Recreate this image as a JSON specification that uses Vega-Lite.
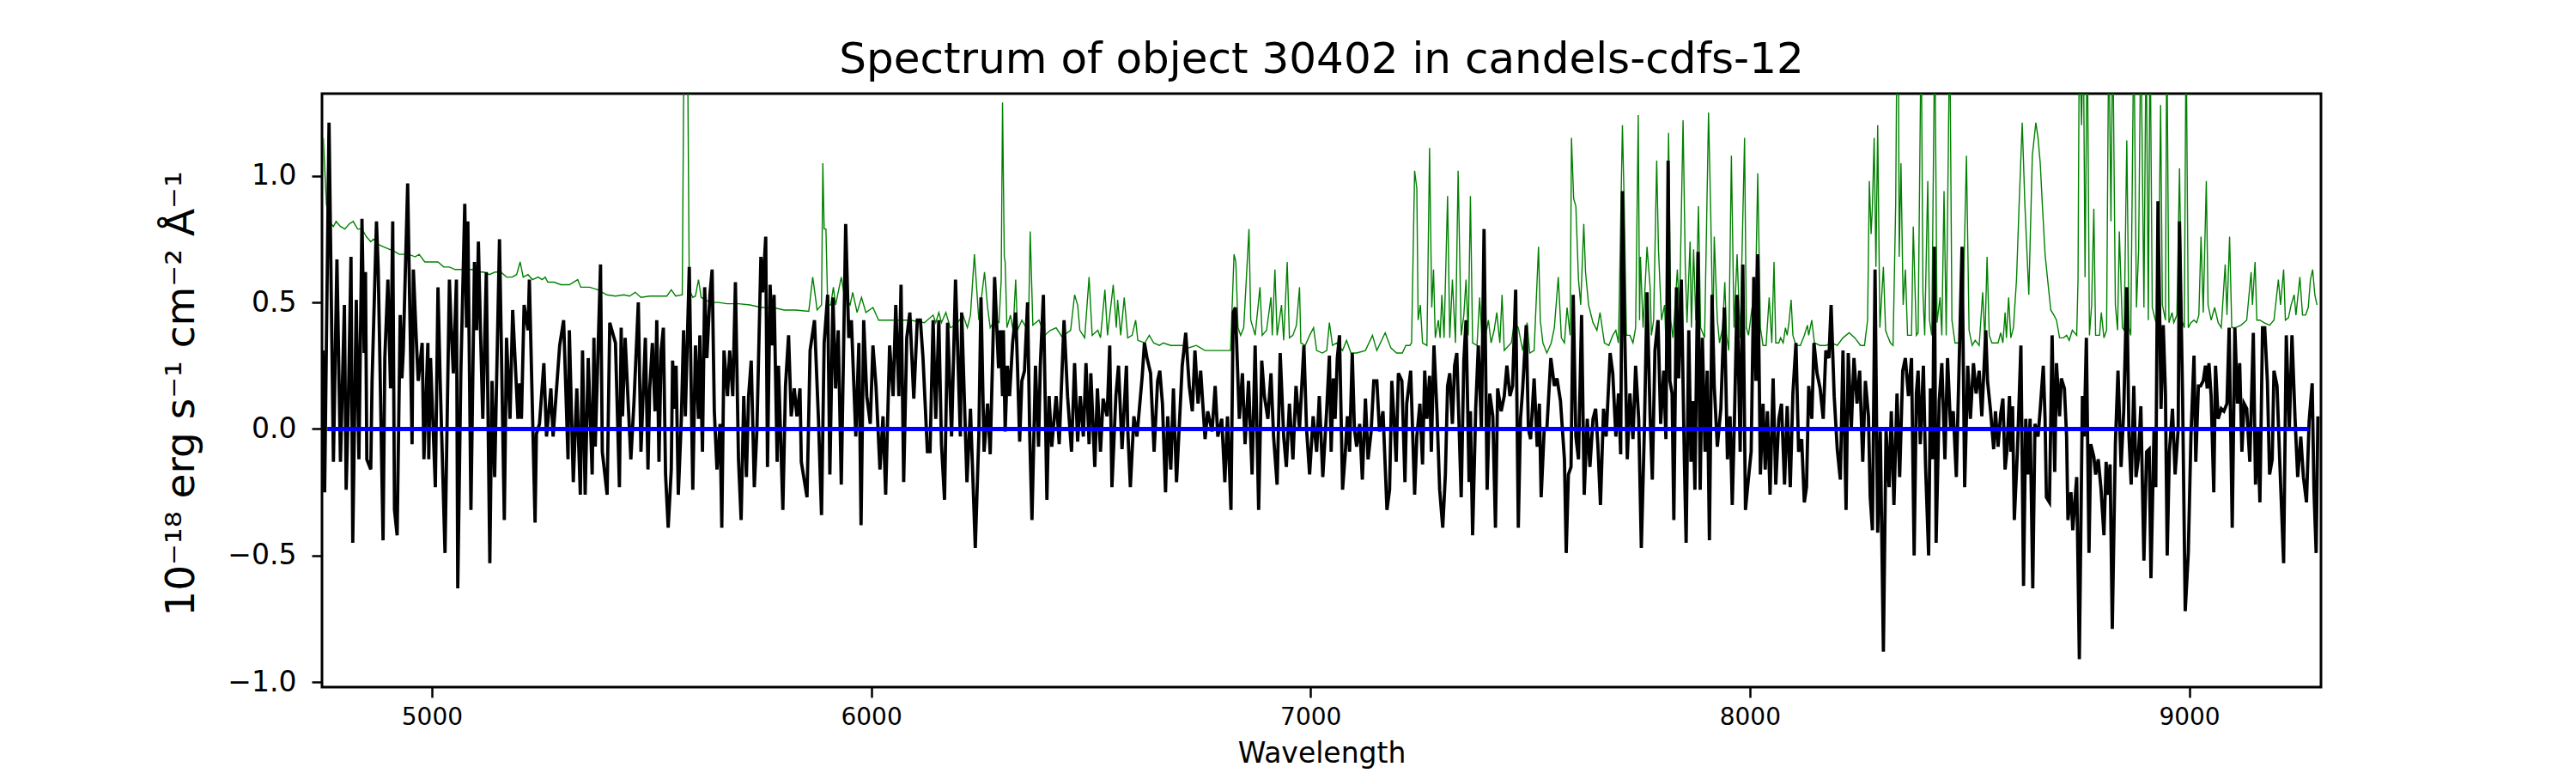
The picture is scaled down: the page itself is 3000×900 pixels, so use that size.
{
  "$schema": "https://vega.github.io/schema/vega-lite/v6.json",
  "width": 2328,
  "height": 691,
  "autosize": "none",
  "padding": {"left": 375, "top": 109, "right": 297, "bottom": 100},
  "background": "white",
  "title": {
    "text": "Spectrum of object 30402 in candels-cdfs-12",
    "font": "DejaVu Sans",
    "fontSize": 50,
    "fontWeight": "normal",
    "color": "black",
    "anchor": "middle",
    "frame": "group",
    "offset": 14
  },
  "datasets": {
    "flux": [
      {"w":4752,"v":0.31},{"w":4756,"v":-0.25},{"w":4766,"v":1.21},{"w":4776,"v":-0.13},{"w":4784,"v":0.67},{"w":4792,"v":-0.13},{"w":4801,"v":0.49},{"w":4805,"v":-0.24},{"w":4810,"v":0.10},{"w":4816,"v":0.68},
      {"w":4820,"v":-0.45},{"w":4828,"v":0.51},{"w":4834,"v":-0.12},{"w":4841,"v":0.83},{"w":4846,"v":0.30},{"w":4849,"v":0.62},{"w":4852,"v":-0.12},{"w":4861,"v":-0.16},{"w":4864,"v":0.19},{"w":4874,"v":0.82},
      {"w":4878,"v":0.63},{"w":4882,"v":0.25},{"w":4889,"v":-0.44},{"w":4893,"v":0.28},{"w":4900,"v":0.59},{"w":4906,"v":0.16},{"w":4911,"v":0.82},{"w":4915,"v":-0.32},{"w":4921,"v":-0.42},{"w":4928,"v":0.45},
      {"w":4932,"v":0.20},{"w":4935,"v":0.31},{"w":4945,"v":0.97},{"w":4955,"v":-0.06},{"w":4958,"v":0.63},{"w":4965,"v":0.34},{"w":4969,"v":0.19},{"w":4978,"v":0.34},{"w":4982,"v":-0.12},{"w":4991,"v":0.34},
      {"w":4993,"v":-0.12},{"w":4997,"v":0.28},{"w":5008,"v":-0.23},{"w":5014,"v":0.56},{"w":5019,"v":0.19},{"w":5030,"v":-0.49},{"w":5040,"v":0.59},{"w":5044,"v":0.40},{"w":5049,"v":0.22},{"w":5056,"v":0.59},
      {"w":5059,"v":-0.63},{"w":5066,"v":0.22},{"w":5075,"v":0.89},{"w":5079,"v":0.40},{"w":5082,"v":0.82},{"w":5089,"v":-0.32},{"w":5097,"v":0.66},{"w":5102,"v":0.39},{"w":5106,"v":0.74},{"w":5111,"v":0.37},
      {"w":5116,"v":0.04},{"w":5124,"v":0.62},{"w":5132,"v":-0.53},{"w":5137,"v":0.19},{"w":5143,"v":-0.19},{"w":5154,"v":0.75},{"w":5165,"v":-0.36},{"w":5170,"v":0.36},{"w":5178,"v":0.04},{"w":5184,"v":0.47},
      {"w":5196,"v":0.04},{"w":5200,"v":0.18},{"w":5204,"v":0.04},{"w":5210,"v":0.49},{"w":5219,"v":0.39},{"w":5222,"v":0.59},{"w":5235,"v":-0.37},{"w":5238,"v":-0.02},{"w":5245,"v":0.02},{"w":5255,"v":0.26},
      {"w":5261,"v":-0.03},{"w":5271,"v":0.16},{"w":5276,"v":-0.03},{"w":5291,"v":0.33},{"w":5300,"v":0.43},{"w":5310,"v":-0.12},{"w":5313,"v":0.39},{"w":5322,"v":-0.21},{"w":5330,"v":0.16},{"w":5338,"v":-0.26},
      {"w":5343,"v":0.31},{"w":5349,"v":-0.26},{"w":5356,"v":0.28},{"w":5365,"v":-0.18},{"w":5369,"v":0.36},{"w":5372,"v":-0.07},{"w":5384,"v":0.65},{"w":5388,"v":-0.09},{"w":5399,"v":-0.26},{"w":5405,"v":0.42},
      {"w":5418,"v":0.34},{"w":5427,"v":-0.23},{"w":5431,"v":0.40},{"w":5434,"v":0.05},{"w":5440,"v":0.36},{"w":5453,"v":-0.12},{"w":5460,"v":0.10},{"w":5470,"v":0.50},{"w":5476,"v":-0.09},{"w":5486,"v":0.36},
      {"w":5492,"v":-0.16},{"w":5496,"v":0.16},{"w":5502,"v":0.34},{"w":5508,"v":0.07},{"w":5512,"v":0.43},{"w":5517,"v":-0.13},{"w":5522,"v":0.31},{"w":5527,"v":0.40},{"w":5532,"v":-0.18},{"w":5538,"v":-0.39},
      {"w":5545,"v":-0.16},{"w":5548,"v":0.27},{"w":5553,"v":0.08},{"w":5556,"v":0.25},{"w":5561,"v":-0.26},{"w":5568,"v":0.04},{"w":5573,"v":0.39},{"w":5577,"v":0.05},{"w":5586,"v":0.64},{"w":5594,"v":-0.24},
      {"w":5600,"v":0.33},{"w":5607,"v":0.04},{"w":5610,"v":0.37},{"w":5616,"v":-0.09},{"w":5621,"v":0.56},{"w":5626,"v":0.28},{"w":5633,"v":0.53},{"w":5638,"v":0.63},{"w":5643,"v":0.07},{"w":5649,"v":-0.16},
      {"w":5656,"v":0.02},{"w":5660,"v":-0.39},{"w":5665,"v":0.31},{"w":5673,"v":0.13},{"w":5678,"v":0.31},{"w":5685,"v":0.13},{"w":5691,"v":0.58},{"w":5698,"v":-0.12},{"w":5704,"v":-0.36},{"w":5710,"v":0.13},
      {"w":5716,"v":-0.19},{"w":5721,"v":0.13},{"w":5727,"v":0.27},{"w":5734,"v":-0.23},{"w":5740,"v":0.00},{"w":5749,"v":0.68},{"w":5753,"v":0.54},{"w":5760,"v":0.76},{"w":5764,"v":-0.15},{"w":5770,"v":0.57},
      {"w":5775,"v":0.33},{"w":5779,"v":0.53},{"w":5786,"v":-0.13},{"w":5789,"v":0.25},{"w":5799,"v":-0.32},{"w":5805,"v":0.17},{"w":5812,"v":0.37},{"w":5818,"v":0.05},{"w":5825,"v":0.16},{"w":5831,"v":0.05},
      {"w":5838,"v":0.16},{"w":5841,"v":-0.13},{"w":5854,"v":-0.27},{"w":5861,"v":0.31},{"w":5871,"v":0.43},{"w":5880,"v":0.04},{"w":5887,"v":-0.34},{"w":5893,"v":0.34},{"w":5901,"v":0.53},{"w":5906,"v":-0.18},
      {"w":5913,"v":0.52},{"w":5919,"v":0.16},{"w":5925,"v":0.39},{"w":5932,"v":-0.22},{"w":5942,"v":0.81},{"w":5949,"v":0.36},{"w":5955,"v":0.43},{"w":5965,"v":-0.03},{"w":5972,"v":0.34},{"w":5977,"v":-0.38},
      {"w":5983,"v":0.43},{"w":5990,"v":0.13},{"w":5998,"v":0.02},{"w":6004,"v":0.33},{"w":6011,"v":0.17},{"w":6020,"v":-0.16},{"w":6027,"v":0.05},{"w":6033,"v":-0.26},{"w":6042,"v":0.33},{"w":6050,"v":0.13},
      {"w":6056,"v":0.49},{"w":6063,"v":0.13},{"w":6068,"v":0.57},{"w":6074,"v":-0.21},{"w":6081,"v":0.36},{"w":6088,"v":0.46},{"w":6097,"v":0.12},{"w":6105,"v":0.43},{"w":6112,"v":0.43},{"w":6118,"v":0.28},
      {"w":6128,"v":-0.09},{"w":6134,"v":-0.09},{"w":6141,"v":0.43},{"w":6147,"v":0.04},{"w":6154,"v":0.43},{"w":6160,"v":-0.06},{"w":6167,"v":-0.28},{"w":6174,"v":0.42},{"w":6183,"v":-0.03},{"w":6192,"v":0.59},
      {"w":6203,"v":-0.03},{"w":6206,"v":0.46},{"w":6218,"v":-0.21},{"w":6226,"v":0.08},{"w":6237,"v":-0.47},{"w":6245,"v":-0.03},{"w":6250,"v":0.52},{"w":6257,"v":-0.09},{"w":6265,"v":0.10},{"w":6271,"v":-0.10},
      {"w":6281,"v":0.60},{"w":6290,"v":0.24},{"w":6294,"v":0.39},{"w":6299,"v":0.13},{"w":6301,"v":0.39},{"w":6305,"v":-0.01},{"w":6310,"v":0.25},{"w":6315,"v":0.13},{"w":6322,"v":0.34},{"w":6329,"v":0.46},
      {"w":6333,"v":0.25},{"w":6338,"v":-0.05},{"w":6343,"v":0.19},{"w":6349,"v":0.23},{"w":6356,"v":0.50},{"w":6361,"v":-0.03},{"w":6366,"v":-0.36},{"w":6374,"v":0.25},{"w":6381,"v":-0.07},{"w":6385,"v":0.25},
      {"w":6392,"v":0.53},{"w":6400,"v":-0.28},{"w":6405,"v":0.13},{"w":6411,"v":-0.07},{"w":6421,"v":0.13},{"w":6428,"v":-0.06},{"w":6439,"v":0.43},{"w":6447,"v":0.13},{"w":6456,"v":-0.09},{"w":6463,"v":0.26},
      {"w":6470,"v":-0.05},{"w":6476,"v":0.13},{"w":6483,"v":-0.03},{"w":6489,"v":0.26},{"w":6496,"v":-0.06},{"w":6500,"v":0.22},{"w":6509,"v":-0.15},{"w":6515,"v":0.16},{"w":6522,"v":-0.09},{"w":6528,"v":0.12},
      {"w":6537,"v":0.05},{"w":6543,"v":0.33},{"w":6548,"v":-0.23},{"w":6557,"v":0.13},{"w":6563,"v":0.25},{"w":6571,"v":-0.08},{"w":6581,"v":0.25},{"w":6584,"v":0.00},{"w":6590,"v":-0.23},{"w":6598,"v":0.05},
      {"w":6605,"v":-0.03},{"w":6617,"v":0.21},{"w":6622,"v":0.34},{"w":6628,"v":0.28},{"w":6636,"v":0.22},{"w":6644,"v":-0.09},{"w":6652,"v":0.19},{"w":6657,"v":0.23},{"w":6663,"v":0.10},{"w":6670,"v":-0.25},
      {"w":6675,"v":0.05},{"w":6682,"v":-0.16},{"w":6688,"v":0.16},{"w":6695,"v":-0.21},{"w":6701,"v":0.00},{"w":6708,"v":0.25},{"w":6716,"v":0.38},{"w":6724,"v":0.17},{"w":6731,"v":0.07},{"w":6737,"v":0.31},
      {"w":6744,"v":0.10},{"w":6750,"v":0.23},{"w":6760,"v":-0.04},{"w":6766,"v":0.07},{"w":6776,"v":-0.01},{"w":6783,"v":0.17},{"w":6789,"v":-0.03},{"w":6798,"v":0.04},{"w":6805,"v":-0.21},{"w":6811,"v":0.05},
      {"w":6819,"v":-0.32},{"w":6824,"v":0.46},{"w":6829,"v":0.48},{"w":6838,"v":0.04},{"w":6845,"v":0.22},{"w":6851,"v":-0.06},{"w":6859,"v":0.19},{"w":6867,"v":-0.18},{"w":6874,"v":0.33},{"w":6882,"v":-0.32},
      {"w":6889,"v":0.27},{"w":6895,"v":0.13},{"w":6903,"v":0.04},{"w":6910,"v":0.22},{"w":6916,"v":-0.03},{"w":6924,"v":-0.22},{"w":6931,"v":0.30},{"w":6939,"v":-0.03},{"w":6945,"v":-0.15},{"w":6952,"v":0.10},
      {"w":6960,"v":-0.12},{"w":6967,"v":0.17},{"w":6975,"v":0.00},{"w":6985,"v":0.33},{"w":6991,"v":0.00},{"w":6998,"v":-0.18},{"w":7006,"v":0.05},{"w":7014,"v":-0.09},{"w":7020,"v":0.13},{"w":7028,"v":-0.19},
      {"w":7037,"v":0.08},{"w":7043,"v":0.29},{"w":7047,"v":-0.09},{"w":7052,"v":0.20},{"w":7056,"v":0.04},{"w":7061,"v":0.28},{"w":7066,"v":0.37},{"w":7073,"v":-0.24},{"w":7079,"v":-0.10},{"w":7084,"v":0.05},
      {"w":7089,"v":-0.09},{"w":7095,"v":0.30},{"w":7100,"v":0.00},{"w":7105,"v":-0.07},{"w":7112,"v":0.02},{"w":7118,"v":-0.20},{"w":7125,"v":0.12},{"w":7131,"v":-0.12},{"w":7138,"v":-0.01},{"w":7144,"v":0.19},
      {"w":7151,"v":0.19},{"w":7157,"v":-0.01},{"w":7165,"v":0.07},{"w":7174,"v":-0.32},{"w":7180,"v":-0.24},{"w":7185,"v":0.19},{"w":7190,"v":0.04},{"w":7195,"v":-0.13},{"w":7200,"v":0.22},{"w":7208,"v":0.19},
      {"w":7215,"v":-0.21},{"w":7219,"v":0.10},{"w":7228,"v":0.23},{"w":7237,"v":-0.26},{"w":7242,"v":-0.03},{"w":7249,"v":0.10},{"w":7255,"v":-0.14},{"w":7260,"v":0.23},{"w":7265,"v":0.04},{"w":7271,"v":0.21},
      {"w":7275,"v":-0.09},{"w":7281,"v":0.33},{"w":7288,"v":0.06},{"w":7294,"v":-0.24},{"w":7301,"v":-0.39},{"w":7307,"v":-0.18},{"w":7312,"v":0.17},{"w":7317,"v":0.22},{"w":7323,"v":0.02},{"w":7328,"v":0.25},
      {"w":7333,"v":0.30},{"w":7338,"v":0.02},{"w":7343,"v":-0.27},{"w":7349,"v":0.27},{"w":7354,"v":0.43},{"w":7361,"v":-0.21},{"w":7364,"v":0.07},{"w":7369,"v":-0.42},{"w":7376,"v":0.08},{"w":7382,"v":0.33},
      {"w":7389,"v":0.00},{"w":7395,"v":0.79},{"w":7402,"v":-0.24},{"w":7408,"v":0.14},{"w":7415,"v":0.05},{"w":7421,"v":-0.39},{"w":7426,"v":0.16},{"w":7434,"v":0.07},{"w":7441,"v":0.13},{"w":7447,"v":0.25},
      {"w":7454,"v":0.13},{"w":7460,"v":0.17},{"w":7467,"v":0.55},{"w":7473,"v":-0.39},{"w":7478,"v":0.04},{"w":7483,"v":0.16},{"w":7491,"v":0.41},{"w":7496,"v":0.00},{"w":7501,"v":-0.04},{"w":7509,"v":0.20},
      {"w":7516,"v":-0.07},{"w":7521,"v":0.10},{"w":7525,"v":-0.27},{"w":7532,"v":0.00},{"w":7538,"v":0.00},{"w":7547,"v":0.28},{"w":7555,"v":0.17},{"w":7561,"v":0.20},{"w":7569,"v":0.11},{"w":7578,"v":-0.12},
      {"w":7582,"v":-0.49},{"w":7587,"v":-0.18},{"w":7593,"v":-0.15},{"w":7598,"v":0.53},{"w":7604,"v":-0.03},{"w":7610,"v":-0.12},{"w":7617,"v":0.45},{"w":7623,"v":-0.26},{"w":7630,"v":0.04},{"w":7636,"v":-0.15},
      {"w":7643,"v":0.04},{"w":7649,"v":0.08},{"w":7654,"v":-0.06},{"w":7660,"v":-0.30},{"w":7667,"v":0.08},{"w":7673,"v":-0.03},{"w":7682,"v":0.30},{"w":7688,"v":0.22},{"w":7695,"v":-0.03},{"w":7701,"v":0.14},
      {"w":7706,"v":-0.10},{"w":7710,"v":0.94},{"w":7714,"v":0.49},{"w":7721,"v":-0.12},{"w":7727,"v":0.14},{"w":7734,"v":-0.04},{"w":7740,"v":0.25},{"w":7747,"v":0.04},{"w":7753,"v":-0.47},{"w":7760,"v":0.00},
      {"w":7766,"v":0.54},{"w":7773,"v":0.05},{"w":7778,"v":-0.20},{"w":7784,"v":0.31},{"w":7791,"v":0.43},{"w":7797,"v":0.02},{"w":7804,"v":0.23},{"w":7809,"v":-0.04},{"w":7814,"v":1.06},{"w":7818,"v":0.19},
      {"w":7823,"v":0.14},{"w":7827,"v":-0.36},{"w":7833,"v":0.56},{"w":7838,"v":0.20},{"w":7844,"v":0.59},{"w":7851,"v":-0.13},{"w":7855,"v":-0.45},{"w":7861,"v":0.39},{"w":7866,"v":-0.13},{"w":7870,"v":0.11},
      {"w":7875,"v":-0.24},{"w":7882,"v":0.70},{"w":7887,"v":-0.24},{"w":7892,"v":0.36},{"w":7898,"v":-0.09},{"w":7903,"v":0.23},{"w":7908,"v":-0.44},{"w":7914,"v":0.53},{"w":7919,"v":0.17},{"w":7926,"v":-0.07},
      {"w":7934,"v":0.08},{"w":7942,"v":0.48},{"w":7949,"v":-0.12},{"w":7955,"v":0.05},{"w":7960,"v":-0.30},{"w":7965,"v":0.04},{"w":7971,"v":0.53},{"w":7978,"v":-0.09},{"w":7984,"v":0.65},{"w":7990,"v":-0.32},
      {"w":7996,"v":-0.21},{"w":8003,"v":-0.09},{"w":8009,"v":0.60},{"w":8014,"v":0.19},{"w":8018,"v":0.69},{"w":8024,"v":-0.18},{"w":8030,"v":0.10},{"w":8035,"v":-0.16},{"w":8040,"v":0.07},{"w":8046,"v":-0.26},
      {"w":8053,"v":0.20},{"w":8059,"v":-0.22},{"w":8066,"v":0.04},{"w":8072,"v":0.10},{"w":8079,"v":-0.22},{"w":8085,"v":0.09},{"w":8092,"v":-0.23},{"w":8098,"v":0.14},{"w":8105,"v":0.34},{"w":8111,"v":-0.09},
      {"w":8118,"v":-0.04},{"w":8124,"v":-0.29},{"w":8129,"v":-0.23},{"w":8134,"v":0.17},{"w":8141,"v":0.04},{"w":8146,"v":0.34},{"w":8153,"v":0.22},{"w":8160,"v":0.16},{"w":8167,"v":0.04},{"w":8173,"v":0.31},
      {"w":8180,"v":0.28},{"w":8185,"v":0.49},{"w":8192,"v":0.13},{"w":8199,"v":-0.08},{"w":8206,"v":-0.20},{"w":8212,"v":0.31},{"w":8219,"v":-0.32},{"w":8224,"v":0.30},{"w":8231,"v":0.00},{"w":8237,"v":0.28},
      {"w":8244,"v":0.10},{"w":8250,"v":0.23},{"w":8257,"v":-0.13},{"w":8263,"v":0.19},{"w":8270,"v":0.05},{"w":8274,"v":-0.27},{"w":8279,"v":-0.40},{"w":8285,"v":0.63},{"w":8291,"v":-0.41},{"w":8297,"v":-0.01},
      {"w":8304,"v":-0.88},{"w":8310,"v":0.00},{"w":8317,"v":-0.23},{"w":8322,"v":0.07},{"w":8328,"v":-0.30},{"w":8335,"v":0.14},{"w":8341,"v":-0.19},{"w":8348,"v":0.23},{"w":8354,"v":0.28},{"w":8361,"v":0.13},
      {"w":8368,"v":0.28},{"w":8374,"v":-0.50},{"w":8379,"v":0.14},{"w":8383,"v":0.23},{"w":8388,"v":-0.06},{"w":8395,"v":0.25},{"w":8400,"v":-0.15},{"w":8407,"v":-0.50},{"w":8411,"v":0.16},{"w":8416,"v":-0.12},
      {"w":8420,"v":0.72},{"w":8424,"v":-0.45},{"w":8431,"v":0.11},{"w":8437,"v":0.26},{"w":8444,"v":-0.12},{"w":8450,"v":0.28},{"w":8457,"v":0.00},{"w":8463,"v":0.07},{"w":8470,"v":-0.19},{"w":8476,"v":0.23},
      {"w":8483,"v":0.72},{"w":8489,"v":-0.23},{"w":8496,"v":0.25},{"w":8502,"v":0.04},{"w":8509,"v":0.26},{"w":8515,"v":0.14},{"w":8522,"v":0.23},{"w":8528,"v":0.05},{"w":8537,"v":0.39},{"w":8541,"v":0.19},
      {"w":8548,"v":0.07},{"w":8555,"v":-0.08},{"w":8559,"v":0.07},{"w":8565,"v":-0.07},{"w":8571,"v":0.06},{"w":8576,"v":0.12},{"w":8581,"v":-0.16},{"w":8585,"v":-0.09},{"w":8591,"v":0.13},{"w":8594,"v":-0.09},
      {"w":8598,"v":0.09},{"w":8602,"v":-0.36},{"w":8609,"v":-0.09},{"w":8617,"v":0.33},{"w":8623,"v":-0.62},{"w":8628,"v":0.04},{"w":8633,"v":-0.18},{"w":8638,"v":0.04},{"w":8644,"v":-0.63},{"w":8649,"v":0.02},
      {"w":8656,"v":-0.03},{"w":8661,"v":0.08},{"w":8668,"v":0.25},{"w":8672,"v":0.04},{"w":8675,"v":-0.27},{"w":8682,"v":-0.29},{"w":8688,"v":0.37},{"w":8694,"v":-0.17},{"w":8698,"v":0.26},{"w":8705,"v":0.05},
      {"w":8709,"v":0.20},{"w":8716,"v":0.16},{"w":8721,"v":-0.03},{"w":8724,"v":-0.36},{"w":8731,"v":-0.25},{"w":8735,"v":-0.40},{"w":8744,"v":-0.19},{"w":8750,"v":-0.91},{"w":8757,"v":0.13},{"w":8761,"v":-0.03},
      {"w":8766,"v":0.36},{"w":8772,"v":-0.49},{"w":8776,"v":-0.06},{"w":8783,"v":-0.11},{"w":8787,"v":-0.18},{"w":8793,"v":-0.12},{"w":8799,"v":-0.23},{"w":8806,"v":-0.42},{"w":8811,"v":-0.13},{"w":8815,"v":-0.26},
      {"w":8820,"v":-0.14},{"w":8825,"v":-0.79},{"w":8832,"v":-0.06},{"w":8838,"v":0.23},{"w":8845,"v":-0.15},{"w":8851,"v":0.07},{"w":8858,"v":0.56},{"w":8863,"v":-0.03},{"w":8868,"v":-0.22},{"w":8874,"v":0.17},
      {"w":8879,"v":-0.19},{"w":8884,"v":-0.12},{"w":8890,"v":0.09},{"w":8897,"v":-0.52},{"w":8903,"v":-0.09},{"w":8909,"v":-0.08},{"w":8913,"v":-0.59},{"w":8920,"v":0.00},{"w":8924,"v":-0.23},{"w":8929,"v":0.90},
      {"w":8936,"v":0.08},{"w":8941,"v":0.41},{"w":8946,"v":0.14},{"w":8950,"v":-0.50},{"w":8955,"v":-0.09},{"w":8962,"v":0.08},{"w":8968,"v":-0.18},{"w":8975,"v":0.00},{"w":8978,"v":0.82},{"w":8985,"v":0.13},
      {"w":8991,"v":-0.72},{"w":8998,"v":-0.49},{"w":9004,"v":-0.03},{"w":9011,"v":0.29},{"w":9015,"v":-0.13},{"w":9021,"v":0.17},{"w":9026,"v":0.17},{"w":9032,"v":0.19},{"w":9037,"v":0.25},{"w":9041,"v":0.16},
      {"w":9045,"v":0.26},{"w":9050,"v":0.13},{"w":9056,"v":-0.25},{"w":9060,"v":0.25},{"w":9066,"v":0.04},{"w":9073,"v":0.08},{"w":9079,"v":0.07},{"w":9086,"v":0.10},{"w":9091,"v":0.40},{"w":9098,"v":-0.39},
      {"w":9104,"v":0.40},{"w":9110,"v":0.10},{"w":9115,"v":0.26},{"w":9120,"v":-0.09},{"w":9125,"v":0.10},{"w":9131,"v":0.08},{"w":9138,"v":-0.13},{"w":9146,"v":0.38},{"w":9151,"v":-0.22},{"w":9156,"v":0.00},
      {"w":9161,"v":-0.29},{"w":9167,"v":0.40},{"w":9172,"v":0.40},{"w":9178,"v":0.19},{"w":9183,"v":-0.18},{"w":9189,"v":-0.12},{"w":9193,"v":0.23},{"w":9200,"v":0.17},{"w":9206,"v":-0.12},{"w":9215,"v":-0.53},
      {"w":9221,"v":0.37},{"w":9228,"v":0.00},{"w":9234,"v":0.37},{"w":9241,"v":0.04},{"w":9247,"v":-0.19},{"w":9254,"v":-0.03},{"w":9260,"v":-0.19},{"w":9267,"v":-0.29},{"w":9273,"v":0.03},{"w":9280,"v":0.18},
      {"w":9284,"v":-0.24},{"w":9289,"v":-0.49},{"w":9293,"v":0.05}
    ],
    "noise": [
      {"w":4753,"v":1.15},{"w":4760,"v":0.89},{"w":4766,"v":0.82},{"w":4776,"v":0.80},{"w":4782,"v":0.82},{"w":4792,"v":0.80},{"w":4802,"v":0.79},{"w":4812,"v":0.81},{"w":4821,"v":0.82},{"w":4831,"v":0.79},
      {"w":4841,"v":0.79},{"w":4851,"v":0.76},{"w":4861,"v":0.74},{"w":4867,"v":0.75},{"w":4877,"v":0.73},{"w":4890,"v":0.72},{"w":4903,"v":0.71},{"w":4916,"v":0.70},{"w":4926,"v":0.69},{"w":4935,"v":0.69},
      {"w":4948,"v":0.69},{"w":4962,"v":0.68},{"w":4971,"v":0.69},{"w":4984,"v":0.66},{"w":5001,"v":0.66},{"w":5014,"v":0.66},{"w":5027,"v":0.64},{"w":5040,"v":0.64},{"w":5053,"v":0.63},{"w":5066,"v":0.63},
      {"w":5079,"v":0.63},{"w":5092,"v":0.63},{"w":5105,"v":0.62},{"w":5118,"v":0.62},{"w":5131,"v":0.61},{"w":5144,"v":0.62},{"w":5157,"v":0.62},{"w":5170,"v":0.60},{"w":5183,"v":0.60},{"w":5193,"v":0.61},
      {"w":5201,"v":0.66},{"w":5208,"v":0.60},{"w":5219,"v":0.61},{"w":5229,"v":0.59},{"w":5242,"v":0.60},{"w":5251,"v":0.59},{"w":5258,"v":0.60},{"w":5264,"v":0.58},{"w":5278,"v":0.58},{"w":5294,"v":0.57},
      {"w":5313,"v":0.57},{"w":5332,"v":0.59},{"w":5339,"v":0.56},{"w":5359,"v":0.56},{"w":5378,"v":0.55},{"w":5398,"v":0.53},{"w":5418,"v":0.525},{"w":5437,"v":0.53},{"w":5450,"v":0.525},{"w":5463,"v":0.54},
      {"w":5476,"v":0.52},{"w":5496,"v":0.525},{"w":5518,"v":0.525},{"w":5535,"v":0.525},{"w":5545,"v":0.55},{"w":5555,"v":0.525},{"w":5570,"v":0.53},{"w":5575,"v":1.8},{"w":5581,"v":1.8},{"w":5586,"v":0.55},
      {"w":5594,"v":0.52},{"w":5600,"v":0.525},{"w":5607,"v":0.59},{"w":5613,"v":0.52},{"w":5633,"v":0.50},{"w":5652,"v":0.50},{"w":5672,"v":0.495},{"w":5698,"v":0.495},{"w":5724,"v":0.49},{"w":5750,"v":0.48},
      {"w":5776,"v":0.48},{"w":5802,"v":0.47},{"w":5828,"v":0.47},{"w":5858,"v":0.465},{"w":5867,"v":0.60},{"w":5877,"v":0.47},{"w":5887,"v":0.49},{"w":5890,"v":1.05},{"w":5893,"v":0.79},{"w":5897,"v":0.79},
      {"w":5901,"v":0.49},{"w":5908,"v":0.49},{"w":5914,"v":0.56},{"w":5919,"v":0.49},{"w":5932,"v":0.60},{"w":5939,"v":0.525},{"w":5952,"v":0.49},{"w":5958,"v":0.54},{"w":5968,"v":0.46},{"w":5978,"v":0.52},
      {"w":5988,"v":0.46},{"w":6004,"v":0.48},{"w":6017,"v":0.43},{"w":6037,"v":0.43},{"w":6056,"v":0.43},{"w":6089,"v":0.43},{"w":6121,"v":0.42},{"w":6141,"v":0.45},{"w":6147,"v":0.42},{"w":6154,"v":0.46},
      {"w":6160,"v":0.42},{"w":6170,"v":0.46},{"w":6180,"v":0.40},{"w":6193,"v":0.41},{"w":6209,"v":0.45},{"w":6219,"v":0.40},{"w":6226,"v":0.45},{"w":6235,"v":0.69},{"w":6245,"v":0.43},{"w":6258,"v":0.62},
      {"w":6265,"v":0.48},{"w":6271,"v":0.40},{"w":6281,"v":0.43},{"w":6291,"v":0.42},{"w":6296,"v":0.59},{"w":6299,"v":1.29},{"w":6303,"v":0.68},{"w":6305,"v":0.66},{"w":6309,"v":0.40},{"w":6317,"v":0.45},
      {"w":6323,"v":0.39},{"w":6329,"v":0.59},{"w":6333,"v":0.39},{"w":6343,"v":0.43},{"w":6353,"v":0.40},{"w":6359,"v":0.49},{"w":6362,"v":0.78},{"w":6368,"v":0.41},{"w":6382,"v":0.43},{"w":6395,"v":0.37},
      {"w":6408,"v":0.39},{"w":6421,"v":0.40},{"w":6434,"v":0.365},{"w":6454,"v":0.39},{"w":6463,"v":0.53},{"w":6470,"v":0.49},{"w":6475,"v":0.39},{"w":6486,"v":0.36},{"w":6496,"v":0.60},{"w":6503,"v":0.37},
      {"w":6516,"v":0.39},{"w":6522,"v":0.36},{"w":6532,"v":0.55},{"w":6538,"v":0.37},{"w":6551,"v":0.57},{"w":6558,"v":0.40},{"w":6561,"v":0.51},{"w":6568,"v":0.37},{"w":6576,"v":0.52},{"w":6584,"v":0.36},
      {"w":6594,"v":0.37},{"w":6602,"v":0.43},{"w":6607,"v":0.35},{"w":6623,"v":0.34},{"w":6633,"v":0.37},{"w":6643,"v":0.34},{"w":6656,"v":0.33},{"w":6665,"v":0.34},{"w":6682,"v":0.33},{"w":6695,"v":0.33},
      {"w":6708,"v":0.33},{"w":6721,"v":0.32},{"w":6740,"v":0.33},{"w":6760,"v":0.31},{"w":6786,"v":0.31},{"w":6805,"v":0.31},{"w":6818,"v":0.31},{"w":6826,"v":0.69},{"w":6830,"v":0.66},{"w":6835,"v":0.40},
      {"w":6841,"v":0.37},{"w":6848,"v":0.40},{"w":6860,"v":0.79},{"w":6864,"v":0.43},{"w":6874,"v":0.37},{"w":6885,"v":0.56},{"w":6890,"v":0.37},{"w":6900,"v":0.39},{"w":6910,"v":0.52},{"w":6913,"v":0.37},
      {"w":6919,"v":0.63},{"w":6924,"v":0.37},{"w":6934,"v":0.49},{"w":6939,"v":0.35},{"w":6947,"v":0.66},{"w":6952,"v":0.36},{"w":6960,"v":0.37},{"w":6968,"v":0.41},{"w":6975,"v":0.56},{"w":6978,"v":0.34},
      {"w":6988,"v":0.33},{"w":6998,"v":0.37},{"w":7007,"v":0.40},{"w":7014,"v":0.31},{"w":7027,"v":0.30},{"w":7037,"v":0.31},{"w":7043,"v":0.42},{"w":7050,"v":0.33},{"w":7060,"v":0.34},{"w":7073,"v":0.31},
      {"w":7082,"v":0.35},{"w":7092,"v":0.30},{"w":7105,"v":0.30},{"w":7125,"v":0.31},{"w":7141,"v":0.37},{"w":7151,"v":0.31},{"w":7170,"v":0.38},{"w":7183,"v":0.32},{"w":7196,"v":0.30},{"w":7209,"v":0.30},
      {"w":7217,"v":0.33},{"w":7226,"v":0.33},{"w":7230,"v":0.34},{"w":7237,"v":1.02},{"w":7242,"v":0.95},{"w":7245,"v":0.43},{"w":7250,"v":0.49},{"w":7255,"v":0.34},{"w":7265,"v":0.33},{"w":7271,"v":1.11},
      {"w":7276,"v":0.48},{"w":7280,"v":0.63},{"w":7284,"v":0.36},{"w":7291,"v":0.43},{"w":7295,"v":0.36},{"w":7299,"v":0.53},{"w":7304,"v":0.36},{"w":7312,"v":0.92},{"w":7317,"v":0.36},{"w":7323,"v":0.59},
      {"w":7330,"v":0.34},{"w":7336,"v":1.02},{"w":7343,"v":0.37},{"w":7349,"v":0.45},{"w":7354,"v":0.59},{"w":7359,"v":0.37},{"w":7364,"v":0.92},{"w":7369,"v":0.34},{"w":7379,"v":0.33},{"w":7385,"v":0.52},
      {"w":7392,"v":0.31},{"w":7405,"v":0.43},{"w":7411,"v":0.34},{"w":7418,"v":0.39},{"w":7424,"v":0.46},{"w":7431,"v":0.34},{"w":7436,"v":0.53},{"w":7441,"v":0.31},{"w":7457,"v":0.34},{"w":7464,"v":0.42},
      {"w":7473,"v":0.40},{"w":7483,"v":0.31},{"w":7493,"v":0.42},{"w":7499,"v":0.30},{"w":7509,"v":0.31},{"w":7519,"v":0.72},{"w":7523,"v":0.43},{"w":7529,"v":0.34},{"w":7538,"v":0.30},{"w":7548,"v":0.34},
      {"w":7555,"v":0.40},{"w":7564,"v":0.60},{"w":7571,"v":0.36},{"w":7578,"v":0.34},{"w":7584,"v":0.48},{"w":7591,"v":0.37},{"w":7594,"v":1.15},{"w":7599,"v":0.91},{"w":7604,"v":0.88},{"w":7610,"v":0.59},
      {"w":7615,"v":0.49},{"w":7622,"v":0.81},{"w":7626,"v":0.62},{"w":7633,"v":0.49},{"w":7643,"v":0.42},{"w":7652,"v":0.39},{"w":7659,"v":0.46},{"w":7669,"v":0.34},{"w":7679,"v":0.33},{"w":7688,"v":0.37},
      {"w":7695,"v":0.39},{"w":7701,"v":0.34},{"w":7710,"v":1.20},{"w":7714,"v":0.89},{"w":7719,"v":0.37},{"w":7727,"v":0.37},{"w":7734,"v":0.34},{"w":7740,"v":0.40},{"w":7746,"v":1.24},{"w":7749,"v":0.43},
      {"w":7751,"v":0.68},{"w":7757,"v":0.40},{"w":7766,"v":0.72},{"w":7773,"v":0.56},{"w":7776,"v":0.37},{"w":7781,"v":0.43},{"w":7788,"v":1.06},{"w":7792,"v":0.71},{"w":7799,"v":0.43},{"w":7806,"v":0.49},
      {"w":7809,"v":0.34},{"w":7815,"v":1.17},{"w":7820,"v":0.43},{"w":7825,"v":0.36},{"w":7835,"v":0.63},{"w":7840,"v":0.46},{"w":7848,"v":1.22},{"w":7853,"v":0.65},{"w":7857,"v":0.42},{"w":7864,"v":0.74},
      {"w":7867,"v":0.40},{"w":7872,"v":0.71},{"w":7877,"v":0.43},{"w":7883,"v":0.88},{"w":7888,"v":0.40},{"w":7897,"v":0.36},{"w":7906,"v":1.25},{"w":7911,"v":0.85},{"w":7916,"v":0.37},{"w":7919,"v":0.76},
      {"w":7926,"v":0.43},{"w":7931,"v":0.34},{"w":7938,"v":0.40},{"w":7943,"v":0.58},{"w":7947,"v":0.37},{"w":7952,"v":0.31},{"w":7958,"v":1.08},{"w":7964,"v":0.40},{"w":7971,"v":0.69},{"w":7978,"v":0.36},
      {"w":7988,"v":1.15},{"w":7992,"v":0.40},{"w":7997,"v":0.37},{"w":8005,"v":0.48},{"w":8011,"v":0.36},{"w":8018,"v":1.01},{"w":8024,"v":0.40},{"w":8030,"v":0.33},{"w":8037,"v":0.33},{"w":8044,"v":0.52},
      {"w":8050,"v":0.34},{"w":8055,"v":0.66},{"w":8059,"v":0.34},{"w":8066,"v":0.34},{"w":8070,"v":0.36},{"w":8076,"v":0.34},{"w":8081,"v":0.40},{"w":8085,"v":0.37},{"w":8089,"v":0.42},{"w":8094,"v":0.51},
      {"w":8098,"v":0.37},{"w":8105,"v":0.33},{"w":8115,"v":0.33},{"w":8124,"v":0.37},{"w":8131,"v":0.41},{"w":8134,"v":0.37},{"w":8141,"v":0.43},{"w":8147,"v":0.34},{"w":8160,"v":0.33},{"w":8173,"v":0.33},
      {"w":8186,"v":0.34},{"w":8199,"v":0.33},{"w":8212,"v":0.36},{"w":8226,"v":0.38},{"w":8239,"v":0.36},{"w":8252,"v":0.33},{"w":8261,"v":0.33},{"w":8268,"v":0.43},{"w":8272,"v":0.98},{"w":8276,"v":0.77},
      {"w":8279,"v":0.88},{"w":8283,"v":1.15},{"w":8287,"v":0.64},{"w":8291,"v":1.20},{"w":8296,"v":0.40},{"w":8304,"v":0.64},{"w":8309,"v":0.39},{"w":8313,"v":0.37},{"w":8320,"v":0.34},{"w":8326,"v":0.33},
      {"w":8332,"v":0.89},{"w":8335,"v":1.6},{"w":8338,"v":1.6},{"w":8340,"v":0.68},{"w":8344,"v":1.05},{"w":8349,"v":0.49},{"w":8354,"v":0.63},{"w":8359,"v":0.37},{"w":8368,"v":0.37},{"w":8372,"v":0.80},
      {"w":8379,"v":0.37},{"w":8383,"v":0.38},{"w":8390,"v":1.6},{"w":8394,"v":0.54},{"w":8398,"v":0.37},{"w":8405,"v":0.98},{"w":8409,"v":0.43},{"w":8414,"v":0.37},{"w":8421,"v":1.6},{"w":8426,"v":0.42},
      {"w":8433,"v":0.52},{"w":8437,"v":0.37},{"w":8442,"v":0.94},{"w":8447,"v":0.37},{"w":8455,"v":1.6},{"w":8460,"v":0.43},{"w":8467,"v":0.34},{"w":8476,"v":0.34},{"w":8485,"v":0.45},{"w":8493,"v":1.08},
      {"w":8499,"v":0.39},{"w":8506,"v":0.33},{"w":8513,"v":0.35},{"w":8522,"v":0.33},{"w":8530,"v":0.54},{"w":8535,"v":0.35},{"w":8540,"v":0.68},{"w":8545,"v":0.37},{"w":8551,"v":0.34},{"w":8565,"v":0.34},
      {"w":8571,"v":0.38},{"w":8576,"v":0.34},{"w":8581,"v":0.46},{"w":8584,"v":0.36},{"w":8589,"v":0.52},{"w":8594,"v":0.36},{"w":8600,"v":0.40},{"w":8607,"v":0.59},{"w":8613,"v":0.89},{"w":8620,"v":1.21},
      {"w":8626,"v":0.89},{"w":8635,"v":0.53},{"w":8643,"v":1.08},{"w":8651,"v":1.21},{"w":8656,"v":1.15},{"w":8661,"v":1.05},{"w":8666,"v":0.88},{"w":8672,"v":0.69},{"w":8679,"v":0.57},{"w":8685,"v":0.47},
      {"w":8692,"v":0.45},{"w":8698,"v":0.43},{"w":8705,"v":0.36},{"w":8714,"v":0.36},{"w":8721,"v":0.37},{"w":8727,"v":0.35},{"w":8734,"v":0.39},{"w":8744,"v":0.37},{"w":8747,"v":0.59},{"w":8750,"v":1.6},
      {"w":8755,"v":1.20},{"w":8759,"v":1.6},{"w":8763,"v":0.60},{"w":8768,"v":1.6},{"w":8773,"v":0.37},{"w":8778,"v":0.49},{"w":8783,"v":0.87},{"w":8787,"v":0.37},{"w":8796,"v":0.37},{"w":8800,"v":0.46},
      {"w":8806,"v":0.36},{"w":8812,"v":0.39},{"w":8817,"v":1.6},{"w":8822,"v":0.82},{"w":8826,"v":1.6},{"w":8832,"v":0.49},{"w":8837,"v":0.39},{"w":8841,"v":0.78},{"w":8848,"v":0.40},{"w":8852,"v":0.39},
      {"w":8858,"v":1.14},{"w":8863,"v":0.40},{"w":8867,"v":0.37},{"w":8874,"v":1.6},{"w":8880,"v":0.48},{"w":8885,"v":0.71},{"w":8890,"v":1.6},{"w":8897,"v":0.48},{"w":8902,"v":1.6},{"w":8907,"v":0.43},
      {"w":8911,"v":1.6},{"w":8916,"v":0.48},{"w":8923,"v":0.43},{"w":8929,"v":0.40},{"w":8935,"v":1.28},{"w":8939,"v":0.49},{"w":8946,"v":0.43},{"w":8949,"v":1.6},{"w":8954,"v":0.42},{"w":8961,"v":0.46},
      {"w":8965,"v":0.42},{"w":8972,"v":0.45},{"w":8978,"v":1.03},{"w":8983,"v":0.43},{"w":8989,"v":0.40},{"w":8993,"v":1.6},{"w":8998,"v":0.40},{"w":9004,"v":0.42},{"w":9011,"v":0.43},{"w":9017,"v":0.42},
      {"w":9022,"v":0.45},{"w":9027,"v":0.76},{"w":9032,"v":0.46},{"w":9039,"v":0.98},{"w":9043,"v":0.49},{"w":9050,"v":0.43},{"w":9058,"v":0.48},{"w":9066,"v":0.42},{"w":9073,"v":0.40},{"w":9082,"v":0.65},
      {"w":9086,"v":0.45},{"w":9092,"v":0.76},{"w":9097,"v":0.40},{"w":9105,"v":0.40},{"w":9118,"v":0.41},{"w":9131,"v":0.43},{"w":9141,"v":0.62},{"w":9144,"v":0.49},{"w":9150,"v":0.66},{"w":9154,"v":0.43},
      {"w":9161,"v":0.43},{"w":9170,"v":0.42},{"w":9183,"v":0.41},{"w":9193,"v":0.43},{"w":9203,"v":0.59},{"w":9208,"v":0.49},{"w":9215,"v":0.63},{"w":9219,"v":0.43},{"w":9226,"v":0.44},{"w":9232,"v":0.49},
      {"w":9239,"v":0.53},{"w":9243,"v":0.45},{"w":9252,"v":0.60},{"w":9258,"v":0.45},{"w":9265,"v":0.45},{"w":9271,"v":0.48},{"w":9276,"v":0.59},{"w":9281,"v":0.63},{"w":9286,"v":0.53},{"w":9291,"v":0.49}
    ],
    "model": [
      {"w":4762,"v":0},{"w":9272,"v":0}
    ]
  },
  "encoding": {
    "x": {
      "field": "w",
      "type": "quantitative",
      "scale": {"domain": [4750, 9300], "nice": false, "zero": false},
      "axis": {
        "values": [5000, 6000, 7000, 8000, 9000],
        "format": "d",
        "title": "Wavelength",
        "titleBaseline": "alphabetic",
        "titleY": 87,
        "titleFontSize": 33,
        "labelFontSize": 28,
        "labelPadding": 9
      }
    },
    "y": {
      "field": "v",
      "type": "quantitative",
      "scale": {"domain": [-1.02, 1.325], "nice": false, "zero": false},
      "axis": {
        "values": [-1, -0.5, 0, 0.5, 1],
        "format": ".1f",
        "title": "10⁻¹⁸ erg s⁻¹ cm⁻² Å⁻¹",
        "titleAngle": 270,
        "titleAlign": "center",
        "titleBaseline": "alphabetic",
        "titleX": -150,
        "titleY": 349,
        "titleFontSize": 47,
        "labelFontSize": 33,
        "labelPadding": 18
      }
    }
  },
  "layer": [
    {
      "data": {"name": "noise"},
      "mark": {"type": "line", "color": "#008000", "strokeWidth": 1.4, "clip": true}
    },
    {
      "data": {"name": "flux"},
      "mark": {"type": "line", "color": "black", "strokeWidth": 3.8, "clip": true}
    },
    {
      "data": {"name": "model"},
      "mark": {"type": "line", "color": "#0000ff", "strokeWidth": 5, "clip": true}
    }
  ],
  "config": {
    "view": {"stroke": "black", "strokeWidth": 3},
    "axis": {
      "grid": false,
      "domain": false,
      "ticks": true,
      "tickSize": 12,
      "tickWidth": 2.5,
      "tickColor": "black",
      "labelFont": "DejaVu Sans",
      "labelColor": "black",
      "labelOverlap": false,
      "titleFont": "DejaVu Sans",
      "titleFontWeight": "normal",
      "titleColor": "black"
    }
  }
}
